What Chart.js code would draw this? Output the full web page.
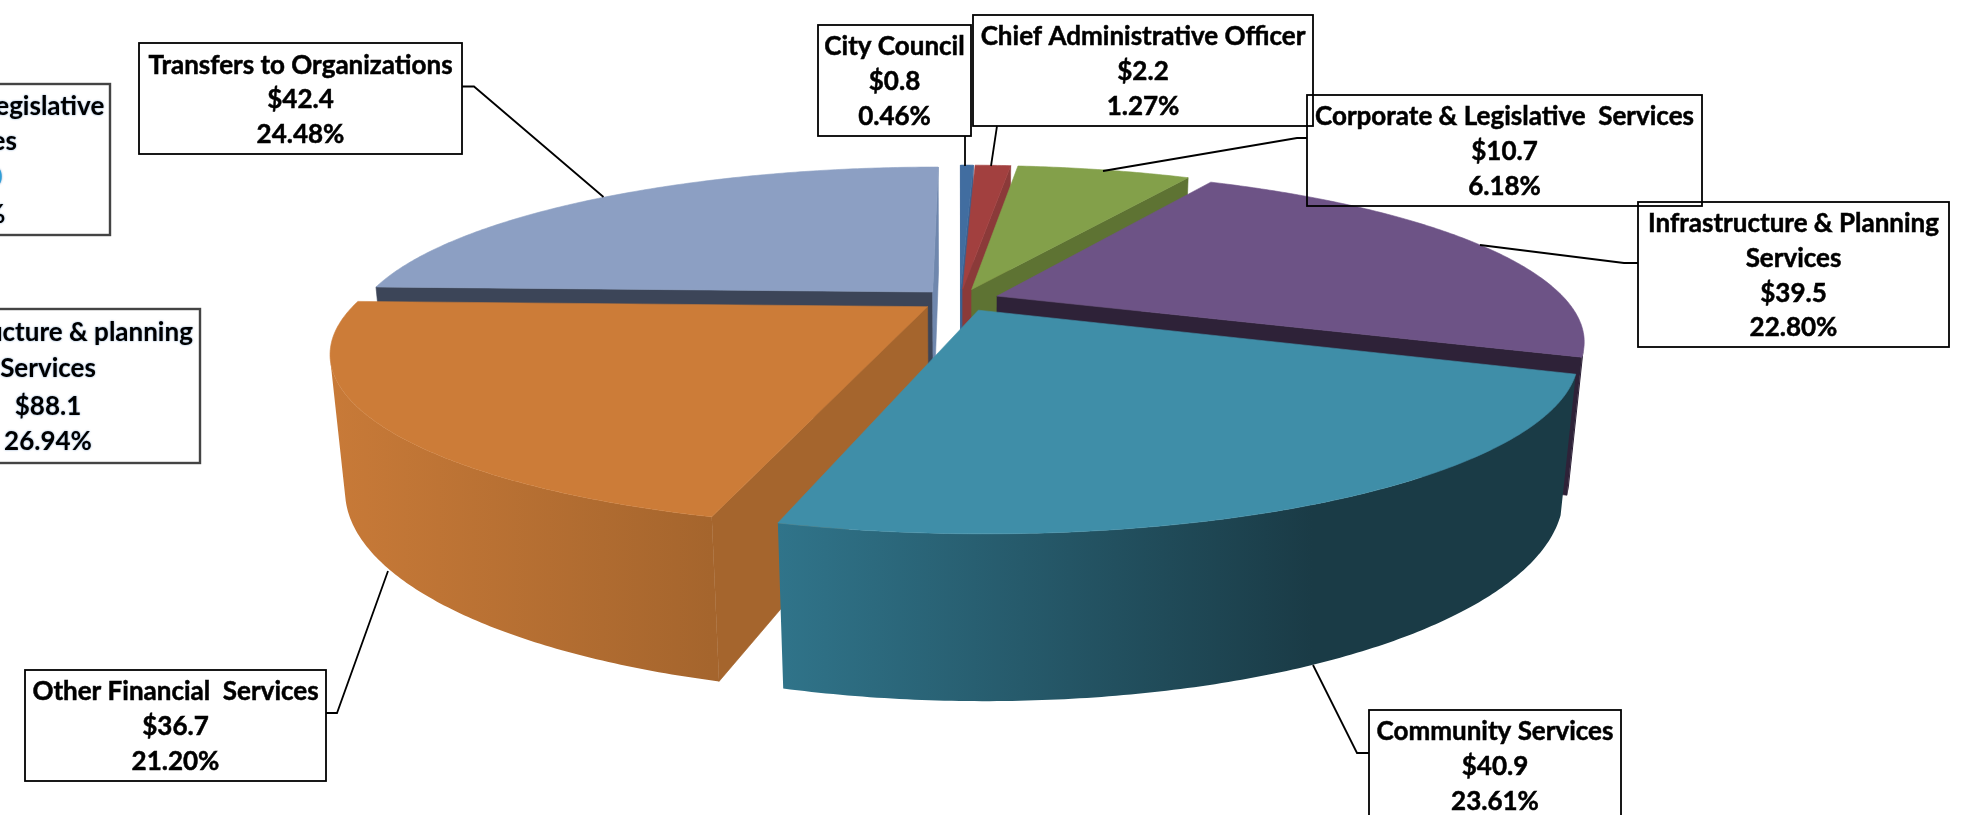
<!DOCTYPE html>
<html lang="en">
<head>
    <meta charset="UTF-8">
    <title>Budget by department</title>
    <script src="https://cdn.jsdelivr.net/npm/chart.js"></script>
    <style>
        html, body { margin: 0; padding: 0; background: #fff; overflow: hidden; }
        canvas { display: block; }
    </style>
</head>
<body>
    <canvas id="pie" width="1987" height="815"></canvas>
    <script>
        // values
        const categories = ['City Council', 'Chief Administrative Officer', 'Corporate & Legislative  Services',
            'Infrastructure & Planning Services', 'Community Services', 'Other Financial  Services', 'Transfers to Organizations'];
        const amounts = ['$0.8', '$2.2', '$10.7', '$39.5', '$40.9', '$36.7', '$42.4'];
        const percents = [0.46, 1.27, 6.18, 22.80, 23.61, 21.20, 24.48];

        // colours of each slice: top, start cut, end cut, outer wall left, outer wall right
        const topColors = ['#416da0', '#a2403f', '#83a04a', '#6d5386', '#3f8ea8', '#cc7c38', '#8c9fc3'];
        const startFace = ['#3a6090', '#8b3a39', '#5e7333', '#2e2238', '#30748a', '#a5652d', '#3c4558'];
        const endFace = ['#3a6090', '#8b3a39', '#5e7333', '#2e2238', '#30748a', '#a5652d', '#6f87ad'];
        const wallFrom = ['#3a6090', '#8b3a39', '#5e7333', '#2e2238', '#30748a', '#c87a38', '#6f87ad'];
        const wallTo = ['#3a6090', '#8b3a39', '#5e7333', '#2e2238', '#1a3b46', '#a5652d', '#6f87ad'];

        // label boxes: [left, top, right, bottom, first line y, leader points]
        const boxes = [
            [818, 25, 971, 136, 47, [[965, 136], [965, 166]]],
            [973, 15, 1313, 126, 37, [[997, 126], [991, 166]]],
            [1307, 95, 1702, 206, 117, [[1307, 138], [1297, 138], [1103, 171]]],
            [1638, 202, 1949, 347, 224, [[1638, 263], [1624, 263], [1480, 245]]],
            [1369, 710, 1621, 860, 732, [[1369, 753], [1357, 753], [1313, 665]]],
            [25, 670, 326, 781, 692, [[326, 713], [337, 713], [388, 571]]],
            [139, 43, 462, 154, 65.5, [[462, 86.5], [474, 86.5], [603.5, 197]]]
        ];

        // leftover boxes cut by the left edge of the picture
        const oldBoxes = [
            { rect: [-180, 84, 110, 235], x: -31, lines: ['Corporate & Legislative', 'Services', '$21.0', '6.42%'], y: [107, 142, 178, 215], colors: ['#000', '#000', '#2f9fd8', '#000'] },
            { rect: [-105, 309, 200, 463], x: 48, lines: ['Infrastructure & planning', 'Services', '$88.1', '26.94%'], y: [333, 369, 407, 442], colors: ['#000', '#000', '#000', '#000'] }
        ];

        // camera used to lay the flat pie on a table
        const view = { cx: 960, cy: 300, rx: 569, ry: 160.5, k: 0.255, depth: 131, m: 0.0225 };

        function project(u, v, z) {
            const w = 1 - view.k * v + view.m * z;
            return [view.cx + view.rx * u / w, view.cy + (view.ry * v + view.depth * z) / w];
        }

        // twice the signed area, used to skip faces turned away from the camera
        function area(pts) {
            let sum = 0;
            pts.forEach((p, i) => {
                const q = pts[(i + 1) % pts.length];
                sum += p[0] * q[1] - q[0] * p[1];
            });
            return sum;
        }

        function tracePoly(ctx, pts) {
            pts.forEach((p, i) => i ? ctx.lineTo(p[0], p[1]) : ctx.moveTo(p[0], p[1]));
            ctx.closePath();
        }

        function fillPoly(ctx, pts, fill) {
            ctx.beginPath();
            tracePoly(ctx, pts);
            ctx.fillStyle = fill;
            ctx.fill();
            ctx.strokeStyle = fill;
            ctx.lineWidth = 0.6;
            ctx.stroke();
        }

        function drawSlice(ctx, arc, i) {
            const mid = (arc.startAngle + arc.endAngle) / 2;
            const off = arc.options.offset / 4 / arc.outerRadius;
            const ox = Math.cos(mid) * off, oy = Math.sin(mid) * off;
            const steps = Math.max(2, Math.ceil((arc.endAngle - arc.startAngle) / 0.01));
            const rim = [];
            for (let s = 0; s <= steps; s++) {
                const a = arc.startAngle + (arc.endAngle - arc.startAngle) * s / steps;
                rim.push([ox + Math.cos(a), oy + Math.sin(a)]);
            }
            const top = rim.map(p => project(p[0], p[1], 0));
            const bottom = rim.map(p => project(p[0], p[1], 1));
            const apexTop = project(ox, oy, 0), apexBottom = project(ox, oy, 1);

            const startQuad = [apexTop, top[0], bottom[0], apexBottom];
            const endQuad = [apexTop, top[steps], bottom[steps], apexBottom];
            if (area(startQuad) < 0) fillPoly(ctx, startQuad, startFace[i]);
            if (area(endQuad) > 0) fillPoly(ctx, endQuad, endFace[i]);

            const xs = top.map(p => p[0]);
            const x0 = Math.min(...xs), x1 = Math.max(...xs);
            const grad = ctx.createLinearGradient(x0, 0, x1, 0);
            grad.addColorStop(0, wallFrom[i]);
            grad.addColorStop(x1 - x0 > 700 ? 0.67 : 1, wallTo[i]);
            if (x1 - x0 > 700) grad.addColorStop(1, wallTo[i]);
            // all wall strips in one path so no seams show between them
            ctx.beginPath();
            for (let s = 0; s < steps; s++) {
                const quad = [top[s], top[s + 1], bottom[s + 1], bottom[s]];
                if (area(quad) < 0) tracePoly(ctx, quad);
            }
            ctx.fillStyle = grad;
            ctx.fill('nonzero');

            fillPoly(ctx, [apexTop].concat(top), topColors[i]);
        }

        const table3d = {
            id: 'table3d',
            beforeDatasetDraw(chart, args) {
                const ctx = chart.ctx;
                const arcs = args.meta.data.map((arc, i) => ({ arc, i }));
                // far slices first
                arcs.sort((a, b) => Math.sin((a.arc.startAngle + a.arc.endAngle) / 2) - Math.sin((b.arc.startAngle + b.arc.endAngle) / 2));
                ctx.save();
                arcs.forEach(o => drawSlice(ctx, o.arc, o.i));
                ctx.restore();
                return false;
            },
            afterDraw(chart) {
                const ctx = chart.ctx;
                ctx.save();
                ctx.textAlign = 'center';
                ctx.textBaseline = 'middle';

                oldBoxes.forEach(b => {
                    ctx.strokeStyle = '#444';
                    ctx.lineWidth = 2.4;
                    ctx.strokeRect(b.rect[0], b.rect[1], b.rect[2] - b.rect[0], b.rect[3] - b.rect[1]);
                    ctx.font = 'bold 26px Lato';
                    ctx.shadowColor = 'rgba(60,110,170,0.7)';
                    ctx.shadowBlur = 2;
                    b.lines.forEach((t, n) => {
                        ctx.fillStyle = b.colors[n];
                        ctx.fillText(t, b.x, b.y[n]);
                    });
                    ctx.shadowColor = 'transparent';
                    ctx.shadowBlur = 0;
                });

                ctx.font = 'bold 26px Lato';
                boxes.forEach((b, i) => {
                    ctx.strokeStyle = '#000';
                    ctx.lineWidth = 1.8;
                    ctx.strokeRect(b[0], b[1], b[2] - b[0], b[3] - b[1]);
                    ctx.beginPath();
                    b[5].forEach((p, n) => n ? ctx.lineTo(p[0], p[1]) : ctx.moveTo(p[0], p[1]));
                    ctx.stroke();

                    let names = [categories[i]];
                    if (categories[i].startsWith('Infrastructure')) names = ['Infrastructure & Planning', 'Services'];
                    const lines = names.concat([amounts[i], percents[i].toFixed(2) + '%']);
                    ctx.fillStyle = '#000';
                    ctx.lineWidth = 0.5;
                    lines.forEach((t, n) => {
                        const x = (b[0] + b[2]) / 2, y = b[4] + n * 34.6;
                        ctx.fillText(t, x, y);
                        ctx.strokeText(t, x, y);
                    });
                });
                ctx.restore();
            }
        };

        new Chart(document.getElementById('pie'), {
            type: 'pie',
            data: {
                labels: categories,
                datasets: [{ data: percents, backgroundColor: topColors, borderWidth: 0, offset: 100 }]
            },
            options: {
                responsive: false,
                animation: false,
                plugins: { legend: { display: false }, tooltip: { enabled: false } }
            },
            plugins: [table3d]
        });
    </script>
</body>
</html>
